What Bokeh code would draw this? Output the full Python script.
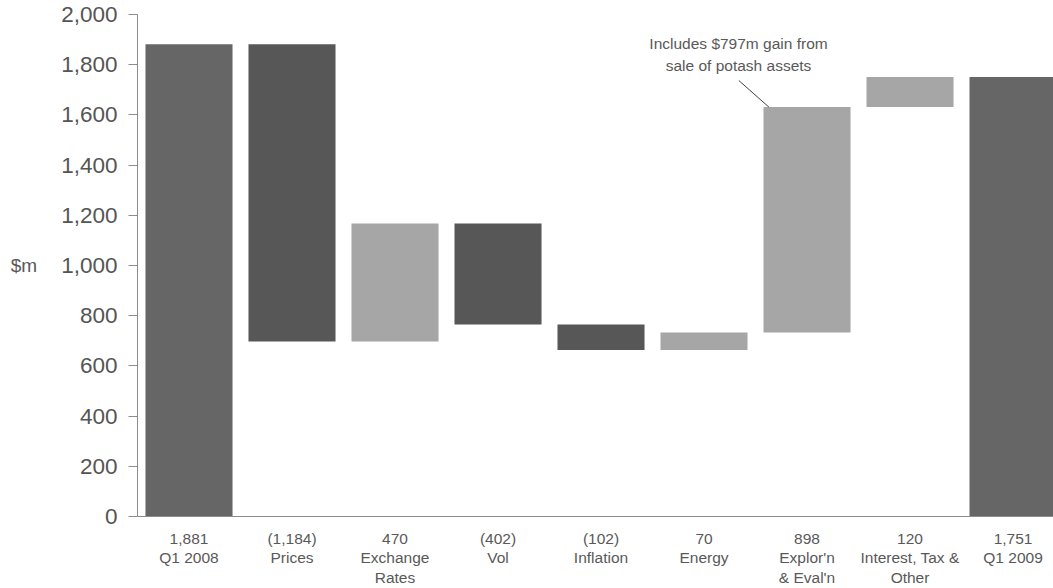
from bokeh.plotting import figure
from bokeh.models import (Range1d, FixedTicker, NumeralTickFormatter, Label,
                          ColumnDataSource)
from bokeh.embed import file_html
from bokeh.resources import INLINE

# Earnings bridge, Q1 2008 -> Q1 2009 ($m)
categories = ["Q1 2008", "Prices", "Exchange\nRates", "Vol", "Inflation",
              "Energy", "Explor'n\n& Eval'n", "Interest, Tax &\nOther", "Q1 2009"]
changes = [1881, -1184, 470, -402, -102, 70, 898, 120, 1751]
is_total = [True, False, False, False, False, False, False, False, True]
y_ticks = [0, 200, 400, 600, 800, 1000, 1200, 1400, 1600, 1800, 2000]
note_lines = ["Includes $797m gain from", "sale of potash assets"]

TOTAL_COLOR = "#666666"
DOWN_COLOR = "#575757"
UP_COLOR = "#a6a6a6"
FONT = "Liberation Sans"

# Build the floating bar extents for the waterfall
bottoms, tops, colors, xs = [], [], [], []
running = 0
for i, (delta, total) in enumerate(zip(changes, is_total)):
    xs.append(i)
    if total:
        bottoms.append(0)
        tops.append(delta)
        colors.append(TOTAL_COLOR)
        running = delta
    else:
        start = running
        running = running + delta
        bottoms.append(min(start, running))
        tops.append(max(start, running))
        colors.append(UP_COLOR if delta > 0 else DOWN_COLOR)

def fmt(v):
    s = f"{abs(v):,}"
    return f"({s})" if v < 0 else s

tick_text = {i: f"{fmt(v)}\n{c}" for i, (v, c) in enumerate(zip(changes, categories))}

src = ColumnDataSource(dict(x=xs, bottom=bottoms, top=tops, color=colors))

p = figure(width=1053, height=588, output_backend="svg", toolbar_location=None,
           x_range=Range1d(-0.5, 8.393), y_range=Range1d(0, 2000),
           min_border_left=137, min_border_right=0, min_border_top=14,
           min_border_bottom=72)
p.outline_line_color = None
p.grid.visible = False
p.background_fill_color = "white"
p.border_fill_color = "white"

p.vbar(x="x", bottom="bottom", top="top", width=0.845, color="color",
       line_color=None, source=src)

# y axis
ya = p.yaxis[0]
ya.ticker = FixedTicker(ticks=y_ticks)
ya.formatter = NumeralTickFormatter(format="0,0")
ya.axis_line_color = "#8c8c8c"
ya.major_tick_line_color = "#8c8c8c"
ya.major_tick_out = 9
ya.major_tick_in = 0
ya.minor_tick_line_color = None
ya.major_label_text_font = FONT
ya.major_label_text_font_size = "22.5px"
ya.major_label_text_color = "#555555"
ya.major_label_standoff = 11
ya.axis_label = "$m"
ya.axis_label_orientation = "horizontal"
ya.axis_label_text_font = FONT
ya.axis_label_text_font_size = "19px"
ya.axis_label_text_font_style = "normal"
ya.axis_label_text_color = "#595959"
ya.axis_label_standoff = 21

# x axis with two-line category labels
xa = p.xaxis[0]
xa.ticker = FixedTicker(ticks=list(range(len(categories))))
xa.major_label_overrides = tick_text
xa.axis_line_color = "#8c8c8c"
xa.major_tick_line_color = None
xa.major_tick_out = 0
xa.major_tick_in = 0
xa.minor_tick_line_color = None
xa.major_label_text_font = FONT
xa.major_label_text_font_size = "15.5px"
xa.major_label_text_line_height = 1.15
xa.major_label_text_color = "#595959"
xa.major_label_standoff = 13

# helpers to place free text in data space
def px_to_x(px):
    return -0.5 + (px - 137) / 103.0

def px_to_y(py):
    return (516 - py) / 0.251

# annotation for the exploration & evaluation step
note_x = px_to_x(738)
for j, line in enumerate(note_lines):
    p.add_layout(Label(x=note_x, y=px_to_y(43 + 21.6 * j), text=line,
                       text_font=FONT, text_font_size="15.5px",
                       text_color="#595959", text_align="center",
                       text_baseline="middle"))
ex_idx = 6
p.line(x=[px_to_x(738.3), ex_idx - 0.37], y=[px_to_y(80), tops[ex_idx]],
       line_color="#404040", line_width=1)

open("out.html", "w").write(file_html(p, INLINE))
